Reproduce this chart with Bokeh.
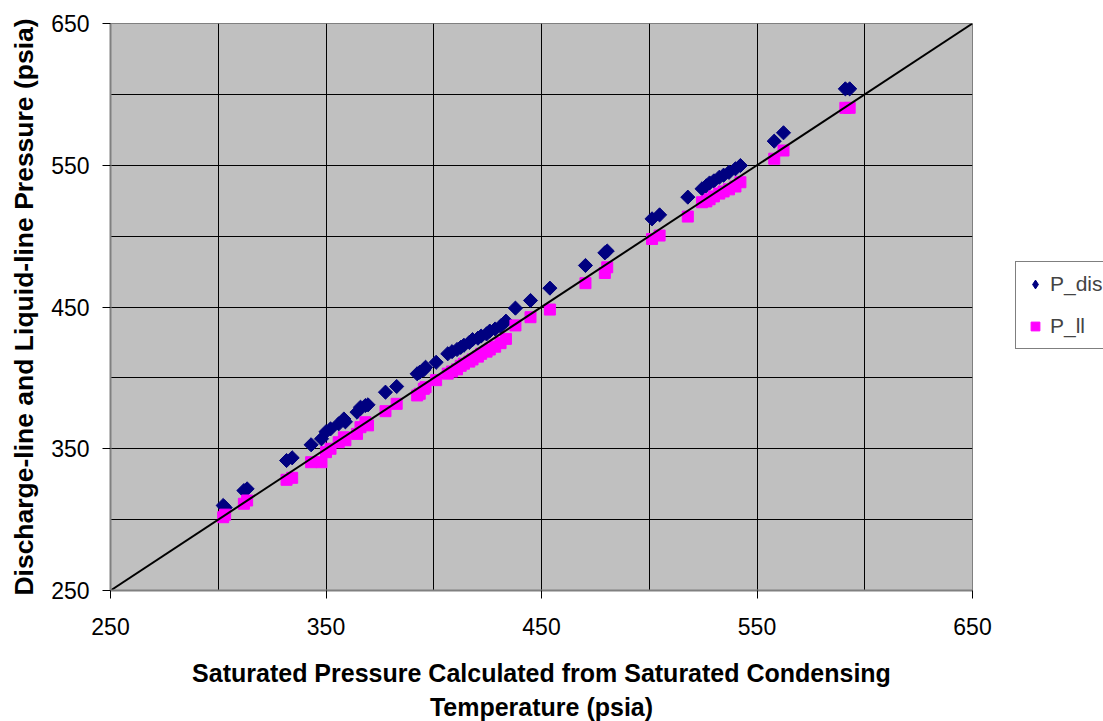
import numpy as np
from bokeh.plotting import figure
from bokeh.models import Range1d, FixedTicker, Legend, LegendItem
from bokeh.embed import file_html
from bokeh.resources import INLINE

# Saturated pressure (x) and measured pressures (y), psia
p_sat = [302.3, 303.2, 311.9, 313.4, 331.7, 334.3, 343.1, 347.9, 350.0, 352.1,
         355.9, 358.3, 359.0, 364.4, 366.0, 368.3, 369.5, 377.6, 382.8, 392.3,
         393.5, 395.4, 396.2, 401.1, 406.5, 408.5, 410.8, 412.5, 414.0, 416.5,
         418.0, 420.5, 422.0, 424.5, 426.0, 428.5, 431.0, 433.5, 437.9, 444.9,
         453.9, 470.4, 479.4, 480.5, 501.3, 504.8, 517.9, 524.5, 526.5, 528.0,
         530.0, 532.5, 534.5, 537.0, 540.0, 542.3, 558.0, 562.3, 591.0, 593.0]
p_dis = [310.0, 308.5, 320.5, 321.7, 341.7, 343.6, 352.8, 357.0, 362.0, 364.0,
         367.6, 371.0, 369.0, 375.8, 379.3, 380.5, 381.0, 389.9, 393.9, 402.9,
         404.0, 405.7, 407.5, 411.0, 417.0, 418.5, 420.0, 421.5, 423.0, 425.0,
         427.0, 428.0, 429.5, 431.0, 433.0, 434.5, 436.5, 440.0, 449.2, 454.6,
         463.3, 479.3, 488.2, 489.5, 512.2, 515.0, 527.5, 533.4, 535.5, 537.5,
         539.0, 541.5, 543.0, 545.0, 547.5, 549.8, 567.0, 572.9, 603.9, 603.9]
p_ll = [301.7, 303.5, 311.2, 313.5, 328.1, 329.5, 340.5, 340.5, 347.6, 350.0,
        354.6, 358.1, 356.0, 360.5, 365.2, 368.7, 366.5, 376.5, 381.7, 387.6,
        388.8, 392.3, 393.4, 398.4, 403.0, 404.5, 406.0, 408.5, 410.0, 411.5,
        413.0, 415.0, 417.0, 418.5, 420.0, 422.0, 424.5, 427.5, 437.0, 442.8,
        448.2, 466.8, 474.0, 478.0, 498.0, 500.4, 513.8, 523.9, 524.5, 526.0,
        528.0, 530.0, 531.5, 533.0, 535.0, 538.0, 554.6, 560.4, 590.5, 590.5]
diag = [250, 650]
axis_ticks = [250, 350, 450, 550, 650]
grid_ticks = [300, 350, 400, 450, 500, 550, 600]

FONT = "Liberation Sans"

p = figure(width=1103, height=721, frame_width=862, frame_height=567,
           x_range=Range1d(250, 650), y_range=Range1d(250, 650),
           output_backend="svg", toolbar_location=None,
           min_border_left=110, min_border_right=131,
           min_border_top=23, min_border_bottom=131,
           background_fill_color="#C0C0C0", border_fill_color="white",
           outline_line_color="#808080", outline_line_width=1)

for ax in (p.xaxis[0], p.yaxis[0]):
    ax.ticker = FixedTicker(ticks=axis_ticks)
    ax.axis_line_color = "#808080"
    ax.axis_line_width = 2
    ax.major_tick_line_color = "#000000"
    ax.major_tick_in = 0
    ax.major_tick_out = 8
    ax.minor_tick_line_color = None
    ax.major_label_text_font = FONT
    ax.major_label_text_font_size = "23px"
    ax.major_label_text_color = "black"
    ax.axis_label_text_font = FONT
    ax.axis_label_text_font_style = "bold"
    ax.axis_label_text_color = "black"

p.xaxis.major_label_standoff = 19
p.yaxis.major_label_standoff = 13
p.xaxis.axis_label = "Saturated Pressure Calculated from Saturated Condensing\nTemperature (psia)"
p.xaxis.axis_label_text_font_size = "25px"
p.xaxis.axis_label_text_line_height = 1.24
p.xaxis.axis_label_standoff = 21
p.yaxis.axis_label = "Discharge-line and Liquid-line Pressure (psia)"
p.yaxis.axis_label_text_font_size = "26.5px"
p.yaxis.axis_label_standoff = 9

for g in (p.xgrid[0], p.ygrid[0]):
    g.ticker = FixedTicker(ticks=grid_ticks)
    g.grid_line_color = "#000000"
    g.grid_line_width = 1

p.scatter(p_sat, p_dis, marker="square", angle=np.pi / 4, size=10,
          fill_color="#000080", line_color="#000080")
# legend proxy for the diamond series (legend glyphs ignore rotation);
# it sits on the first P_dis point, hidden inside that rotated square
r_dis_leg = p.scatter(p_sat[:1], p_dis[:1], marker="diamond", size=11,
                      fill_color="#000080", line_color="#000080")
r_ll = p.scatter(p_sat, p_ll, marker="square", size=11,
                 fill_color="#FF00FF", line_color="#FF00FF")
p.line(diag, diag, line_color="black", line_width=2)

legend = Legend(items=[LegendItem(label="P_dis", renderers=[r_dis_leg]),
                       LegendItem(label="P_ll", renderers=[r_ll])],
                location=(43, 241), orientation="vertical",
                border_line_color="black", border_line_width=1,
                background_fill_color="white", background_fill_alpha=1,
                label_text_font=FONT, label_text_font_size="21px",
                glyph_width=22, glyph_height=28, label_height=28,
                spacing=14, padding=8, margin=0, label_standoff=4)
p.add_layout(legend, "right")

open("out.html", "w").write(file_html(p, INLINE))
